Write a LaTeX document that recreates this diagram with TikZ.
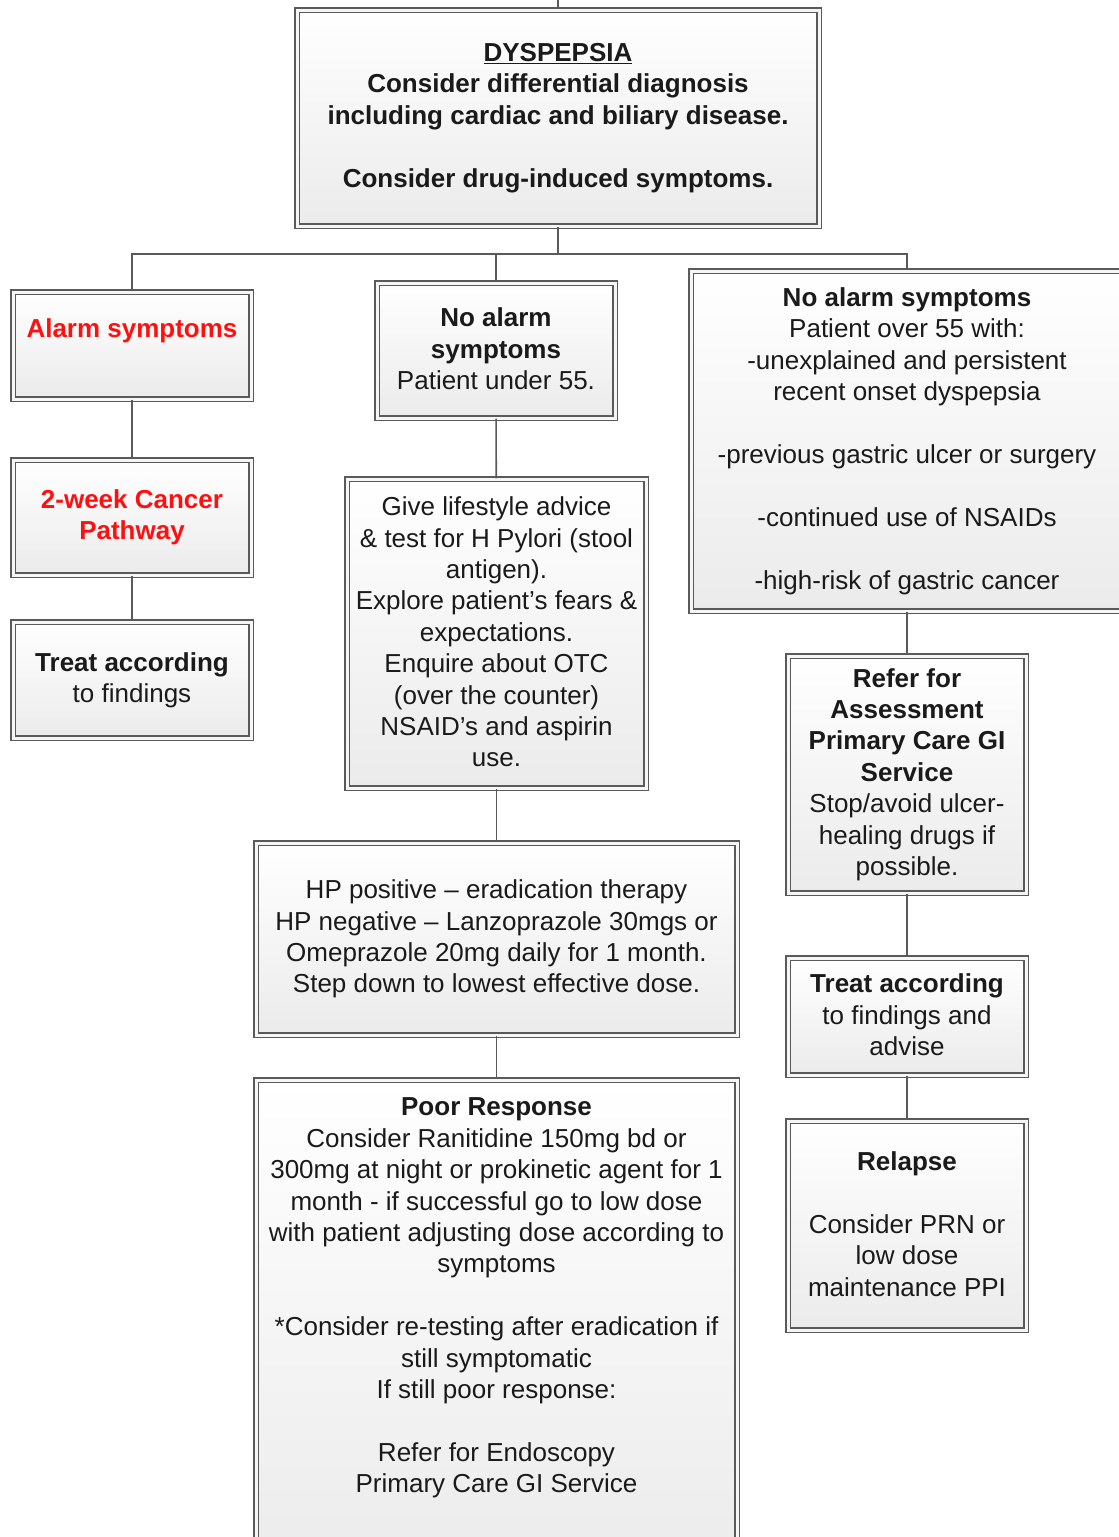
\documentclass[tikz,border=0pt]{standalone}
\usepackage{fontspec}
\setmainfont{Liberation Sans}
\usetikzlibrary{shadows}
\definecolor{linegray}{HTML}{5A5A5A}
\definecolor{txt}{HTML}{1A1A1A}
\definecolor{alarmred}{HTML}{FF1010}
\definecolor{boxbot}{HTML}{EBEBEB}
\definecolor{boxgap}{HTML}{F6F6F6}
\newcommand{\fsz}{\fontsize{26}{31.4}\selectfont}
\tikzset{
  box/.style={draw=linegray, line width=1.3pt, double=boxgap, double distance=3pt,
    top color=white, bottom color=boxbot,
    drop shadow={shadow xshift=3pt, shadow yshift=-3pt, fill=black, opacity=0.18},
    align=center, inner sep=0pt, font=\fsz, text=txt,
    execute at begin node={\rule{0pt}{22pt}}, execute at end node={\rule[-3.4pt]{0pt}{1pt}}},
  conn/.style={draw=linegray, line width=1.6pt}
}
\begin{document}
\begin{tikzpicture}[x=1pt,y=-1pt]
\useasboundingbox (0,0) rectangle (1119,1537);
\clip (0,0) rectangle (1119,1537);

\node[box, minimum width=522, minimum height=216, font=\fsz\bfseries] (dys) at (558,118)
  {\underline{DYSPEPSIA}\\Consider differential diagnosis\\including cardiac and biliary disease.\\[31.4pt]Consider drug-induced symptoms.};

\node[box, minimum width=238, minimum height=107, text=alarmred, font=\fsz\bfseries] (alarm) at (132,345.5)
  {Alarm symptoms\\};
\node[box, minimum width=238, minimum height=115, text=alarmred, font=\fsz\bfseries] (twoweek) at (132,517.5)
  {2-week Cancer\\Pathway};
\node[box, minimum width=238, minimum height=116] (treat1) at (132,680)
  {\textbf{Treat according}\\to findings};

\node[box, minimum width=238, minimum height=135] (under55) at (496,350.5)
  {\textbf{No alarm}\\\textbf{symptoms}\\Patient under 55.};
\node[box, minimum width=299, minimum height=309] (life) at (496.5,633.5)
  {Give lifestyle advice\\\& test for H Pylori (stool\\antigen).\\Explore patient’s fears \&\\expectations.\\Enquire about OTC\\(over the counter)\\NSAID’s and aspirin\\use.};
\node[box, minimum width=481, minimum height=192] (hp) at (496.5,939)
  {HP positive – eradication therapy\\HP negative – Lanzoprazole 30mgs or\\Omeprazole 20mg daily for 1 month.\\Step down to lowest effective dose.};
\node[box, minimum width=481, minimum height=497] (poor) at (496.5,1328.5)
  {\textbf{Poor Response}\\Consider Ranitidine 150mg bd or\\300mg at night or prokinetic agent for 1\\month - if successful go to low dose\\with patient adjusting dose according to\\symptoms\\[31.4pt]{*}Consider re-testing after eradication if\\still symptomatic\\If still poor response:\\[31.4pt]Refer for Endoscopy\\Primary Care GI Service\\[31.4pt]};

\node[box, minimum width=432, minimum height=340] (over55) at (907,441)
  {\textbf{No alarm symptoms}\\Patient over 55 with:\\-unexplained and persistent\\recent onset dyspepsia\\[31.4pt]-previous gastric ulcer or surgery\\[31.4pt]-continued use of NSAIDs\\[31.4pt]-high-risk of gastric cancer};
\node[box, minimum width=238, minimum height=237] (refer) at (907,774.5)
  {\textbf{Refer for}\\\textbf{Assessment}\\\textbf{Primary Care GI}\\\textbf{Service}\\Stop/avoid ulcer-\\healing drugs if\\possible.};
\node[box, minimum width=238, minimum height=117] (treat2) at (907,1016.5)
  {\textbf{Treat according}\\to findings and\\advise};
\node[box, minimum width=238, minimum height=209] (relapse) at (907,1225.5)
  {\textbf{Relapse}\\[31.4pt]Consider PRN or\\low dose\\maintenance PPI};

\coordinate (top) at (558,0);
\coordinate (bus) at (558,254);
\draw[conn] (top) -- (dys.north);
\draw[conn] (dys.south) -- (bus);
\draw[conn] (alarm.north) |- (bus) -| (over55.north);
\draw[conn] (under55.north) -- (under55.north |- bus);
\draw[conn] (alarm) -- (twoweek);
\draw[conn] (twoweek) -- (treat1);
\draw[conn] (under55) -- (life);
\draw[conn] (life) -- (hp);
\draw[conn] (hp) -- (poor);
\draw[conn] (over55) -- (refer);
\draw[conn] (refer) -- (treat2);
\draw[conn] (treat2) -- (relapse);
\end{tikzpicture}
\end{document}
